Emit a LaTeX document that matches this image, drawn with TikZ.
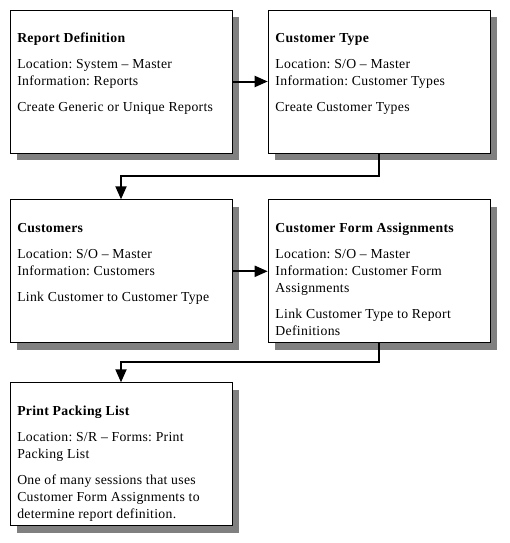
\documentclass[tikz,border=0pt]{standalone}
\usepackage{fontspec}
\setmainfont{Liberation Serif}[LetterSpace=2.2]
\usetikzlibrary{arrows.meta,shadows,calc}
\definecolor{shadowgray}{HTML}{808080}
\begin{document}
\begin{tikzpicture}[x=0.75pt,y=-0.75pt,
  box/.style={draw=black, line width=0.75pt, fill=white, minimum width=166.5pt, minimum height=107.25pt, anchor=north west, inner sep=0pt,
    drop shadow={shadow xshift=5.25pt, shadow yshift=-5.25pt, fill=shadowgray, opacity=1}},
  txt/.style={anchor=base west, inner sep=0pt, font=\fontsize{10.3pt}{12.75pt}\selectfont\frenchspacing},
  conn/.style={line width=1.5pt, -{Triangle[length=9.75pt,width=8.25pt]}}]
\fill[white] (0,0) rectangle (510,543);
\useasboundingbox (0,0) rectangle (510,543);
% boxes
\node[box] (b1) at (9.5,9.5) {};
\node[box] (b2) at (267.7,9.5) {};
\node[box] (b3) at (9.5,199.3) {};
\node[box] (b4) at (267.7,199.3) {};
\node[box] (b5) at (9.5,382.3) {};
% texts
\node[txt] (t1) at ($(b1.north west)+(7.5,33)$) {\parbox[t]{200pt}{\raggedright\textbf{Report Definition}\\[6.75pt]
  Location: System – Master\\ Information: Reports\\[6.75pt] Create Generic or Unique Reports}};
\node[txt] (t2) at ($(b2.north west)+(7.5,33)$) {\parbox[t]{200pt}{\raggedright\textbf{Customer Type}\\[6.75pt]
  Location: S/O – Master\\ Information: Customer Types\\[6.75pt] Create Customer Types}};
\node[txt] (t3) at ($(b3.north west)+(7.5,33)$) {\parbox[t]{200pt}{\raggedright\textbf{Customers}\\[6.75pt]
  Location: S/O – Master\\ Information: Customers\\[6.75pt] Link Customer to Customer Type}};
\node[txt] (t4) at ($(b4.north west)+(7.5,33)$) {\parbox[t]{200pt}{\raggedright\textbf{Customer Form Assignments}\\[6.75pt]
  Location: S/O – Master\\ Information: Customer Form\\ Assignments\\[6.75pt] Link Customer Type to Report\\ Definitions}};
\node[txt] (t5) at ($(b5.north west)+(7.5,33)$) {\parbox[t]{200pt}{\raggedright\textbf{Print Packing List}\\[6.75pt]
  Location: S/R – Forms: Print\\ Packing List\\[6.75pt] One of many sessions that uses\\ Customer Form Assignments to\\ determine report definition.}};
% connectors
\coordinate (j1) at (0,175.5);
\coordinate (j2) at (0,362.3);
\draw[conn] (b1.east) -- (b2.west);
\draw[conn] (b3.east) -- (b4.west);
\draw[conn] (b2.south) -- (b2.south |- j1) -| (b3.north);
\draw[conn] (b4.south) -- (b4.south |- j2) -| (b5.north);
\end{tikzpicture}
\end{document}
